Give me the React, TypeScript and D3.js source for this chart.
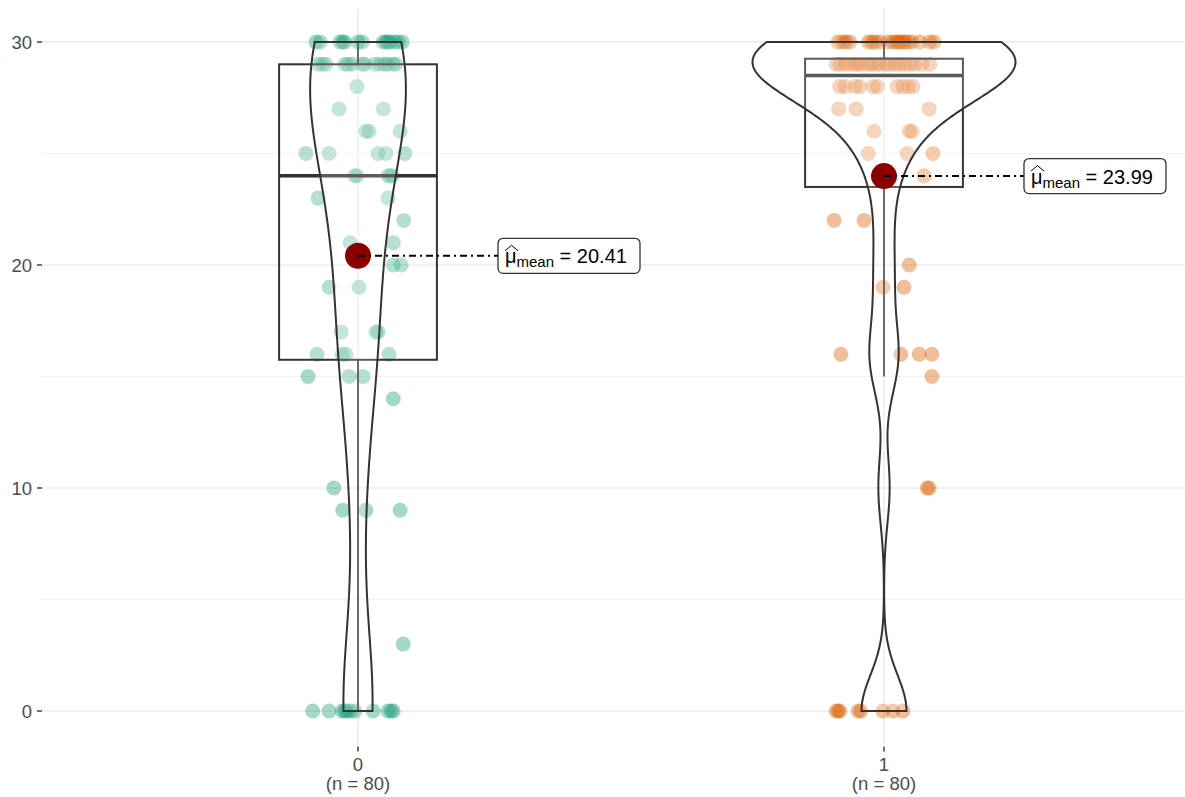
import React from "react";
import * as d3 from "d3";

// ---------- data ----------
const categories = ["0", "1"];

const group0Values = [
  30, 30, 30, 30, 30, 30, 30, 30, 30, 30, 30, 30, 30, 30,
  29, 29, 29, 29, 29, 29, 29, 29, 29, 29, 29, 29, 29, 29,
  28, 27, 27, 26, 26, 26, 25, 25, 25, 25, 25,
  24, 24, 24, 24, 24, 23, 23, 22, 21, 21, 20, 20, 19, 19,
  17, 17, 17, 16, 16, 16, 16, 15, 15, 15, 14, 10, 9, 9, 9, 3,
  0, 0, 0, 0, 0, 0, 0, 0, 0, 0, 0,
];
const group0Jitter = [
  -0.08, -0.072, -0.034, -0.029, -0.025, 0.0, 0.008, 0.048, 0.053, 0.057, 0.061, 0.07, 0.076, 0.084,
  -0.076, -0.068, -0.061, -0.025, -0.019, -0.011, 0.008, 0.013, 0.032, 0.042, 0.051, 0.057, 0.067, 0.072,
  -0.002, -0.036, 0.048, 0.015, 0.021, 0.08, -0.099, -0.055, 0.038, 0.053, 0.089,
  -0.002, 0.061, -0.006, 0.057, 0.065, -0.076, 0.057, 0.087, -0.015, 0.067, 0.067, 0.082, -0.055, 0.002,
  -0.032, 0.034, 0.038, -0.078, -0.03, -0.023, 0.059, -0.095, -0.017, 0.01, 0.067, -0.046, -0.029, 0.015, 0.08, 0.086,
  -0.086, -0.055, -0.03, -0.025, -0.021, -0.015, -0.006, 0.029, 0.057, 0.063, 0.067,
];

const group1Values = [
  30, 30, 30, 30, 30, 30, 30, 30, 30, 30, 30, 30, 30, 30, 30, 30, 30, 30, 30, 30,
  29, 29, 29, 29, 29, 29, 29, 29, 29, 29, 29, 29, 29, 29, 29, 29, 29, 29, 29, 29,
  28, 28, 28, 28, 28, 28, 28, 28, 28, 28,
  27, 27, 27, 26, 26, 26, 25, 25, 25, 24, 22, 22, 20, 19, 19,
  16, 16, 16, 16, 15, 10, 10,
  0, 0, 0, 0, 0, 0, 0, 0,
];
const group1Jitter = [
  -0.087, -0.078, -0.072, -0.065, -0.03, -0.023, -0.017, -0.008, 0.008, 0.017, 0.023, 0.027, 0.03, 0.036, 0.04, 0.046, 0.053, 0.068, 0.087, 0.095,
  -0.091, -0.084, -0.074, -0.065, -0.055, -0.049, -0.042, -0.03, -0.023, -0.015, -0.008, 0.004, 0.011, 0.021, 0.03, 0.04, 0.049, 0.059, 0.072, 0.087,
  -0.084, -0.074, -0.055, -0.046, -0.021, -0.013, 0.025, 0.036, 0.046, 0.055,
  -0.086, -0.053, 0.086, -0.019, 0.048, 0.053, -0.03, 0.044, 0.093, 0.076, -0.095, -0.038, 0.048, -0.002, 0.038,
  -0.082, 0.032, 0.067, 0.091, 0.091, 0.082, 0.086,
  -0.091, -0.087, -0.084, -0.049, -0.044, -0.002, 0.017, 0.036,
];

const yTicks = [0, 10, 20, 30];
const yMinorTicks = [5, 15, 25];
const groupColors = ["#1B9E77", "#D95F02"];

// ---------- layout ----------
const W = 1185;
const H = 797;
const panelLeft = 42;
const panelRight = 1185;

const yScale = d3.scaleLinear().domain([0, 30]).range([711, 42]);
const xScale = d3.scalePoint<string>().domain(categories).range([358, 884]);
const unit = (xScale("1") as number) - (xScale("0") as number); // px per category unit
const panelTop = yScale(31.5);
const panelBottom = yScale(-1.5);

const font = "'Liberation Sans', Arial, Helvetica, sans-serif";

function quantile7(sorted: number[], p: number) {
  return d3.quantileSorted(sorted, p) as number;
}

function kde(values: number[], n = 512) {
  const sorted = [...values].sort((a, b) => a - b);
  const sd = d3.deviation(sorted) as number;
  const iqr = quantile7(sorted, 0.75) - quantile7(sorted, 0.25);
  const lo = Math.min(sd, iqr / 1.34);
  const bw = 0.9 * lo * Math.pow(sorted.length, -0.2);
  const min = sorted[0];
  const max = sorted[sorted.length - 1];
  const pts: [number, number][] = [];
  for (let i = 0; i < n; i++) {
    const y = min + ((max - min) * i) / (n - 1);
    let s = 0;
    for (const v of sorted) {
      const z = (y - v) / bw;
      s += Math.exp(-0.5 * z * z);
    }
    pts.push([y, s / (sorted.length * bw * Math.sqrt(2 * Math.PI))]);
  }
  return pts;
}

function boxStats(values: number[]) {
  const s = [...values].sort((a, b) => a - b);
  const q1 = quantile7(s, 0.25);
  const med = quantile7(s, 0.5);
  const q3 = quantile7(s, 0.75);
  const iqr = q3 - q1;
  const lowFence = q1 - 1.5 * iqr;
  const highFence = q3 + 1.5 * iqr;
  const lo = s.find((v) => v >= lowFence) as number;
  const hi = [...s].reverse().find((v) => v <= highFence) as number;
  return { q1, med, q3, lo, hi, mean: d3.mean(s) as number, n: s.length };
}

const groups = [
  { key: categories[0], values: group0Values, jitter: group0Jitter, color: groupColors[0] },
  { key: categories[1], values: group1Values, jitter: group1Jitter, color: groupColors[1] },
];

export default function App() {
  const densities = groups.map((g) => kde(g.values));
  const maxD = d3.max(densities.flat(), (d) => d[1]) as number;
  const stats = groups.map((g) => boxStats(g.values));

  return (
    <svg
      width={W}
      height={H}
      style={{ position: "absolute", left: 0, top: 0, background: "#fff" }}
      fontFamily={font}
    >
      {/* grid */}
      {yMinorTicks.map((t) => (
        <line key={"mi" + t} x1={panelLeft} x2={panelRight} y1={yScale(t)} y2={yScale(t)} stroke="#F2F2F2" strokeWidth={1} />
      ))}
      {yTicks.map((t) => (
        <line key={"ma" + t} x1={panelLeft} x2={panelRight} y1={yScale(t)} y2={yScale(t)} stroke="#EBEBEB" strokeWidth={1.6} />
      ))}
      {categories.map((c) => (
        <line key={"vx" + c} x1={xScale(c)} x2={xScale(c)} y1={panelTop} y2={panelBottom} stroke="#EBEBEB" strokeWidth={1.6} />
      ))}

      {/* y axis */}
      {yTicks.map((t) => (
        <g key={"yt" + t}>
          <line x1={panelLeft - 5} x2={panelLeft} y1={yScale(t)} y2={yScale(t)} stroke="#333" strokeWidth={1.4} />
          <text x={panelLeft - 10} y={yScale(t)} dy="0.36em" textAnchor="end" fontSize={18.5} fill="#4D4D4D">
            {t}
          </text>
        </g>
      ))}

      {/* x axis */}
      {groups.map((g, i) => (
        <g key={"xt" + g.key}>
          <line x1={xScale(g.key)} x2={xScale(g.key)} y1={panelBottom + 2} y2={panelBottom + 7} stroke="#333" strokeWidth={1.4} />
          <text x={xScale(g.key)} y={771} textAnchor="middle" fontSize={18.5} fill="#4D4D4D">
            {g.key}
          </text>
          <text x={xScale(g.key)} y={790} textAnchor="middle" fontSize={18.5} fill="#4D4D4D">
            {`(n = ${stats[i].n})`}
          </text>
        </g>
      ))}

      {/* jittered points */}
      {groups.map((g) => (
        <g key={"pts" + g.key}>
          {g.values.map((v, j) => (
            <circle
              key={j}
              cx={(xScale(g.key) as number) + g.jitter[j] * unit}
              cy={yScale(v)}
              r={7.5}
              fill={g.color}
              fillOpacity={0.4}
            />
          ))}
        </g>
      ))}

      {/* boxplots */}
      {groups.map((g, i) => {
        const cx = xScale(g.key) as number;
        const s = stats[i];
        const hw = 0.15 * unit;
        return (
          <g key={"box" + g.key}>
            <line x1={cx} x2={cx} y1={yScale(s.q3)} y2={yScale(s.hi)} stroke="#444" strokeWidth={2} />
            <line x1={cx} x2={cx} y1={yScale(s.q1)} y2={yScale(s.lo)} stroke="#444" strokeWidth={2} />
            <rect
              x={cx - hw}
              y={yScale(s.q3)}
              width={2 * hw}
              height={yScale(s.q1) - yScale(s.q3)}
              fill="#fff"
              fillOpacity={0.2}
              stroke="#333"
              strokeWidth={2}
            />
            <line x1={cx - hw} x2={cx + hw} y1={yScale(s.med)} y2={yScale(s.med)} stroke="#333" strokeWidth={3.6} />
          </g>
        );
      })}

      {/* violins */}
      {groups.map((g, i) => {
        const cx = xScale(g.key) as number;
        const dens = densities[i];
        const half = (d: number) => (d / maxD) * 0.25 * unit;
        const right = dens.map(([y, d]) => [cx + half(d), yScale(y)] as [number, number]);
        const left = [...dens].reverse().map(([y, d]) => [cx - half(d), yScale(y)] as [number, number]);
        const path = d3.line()([...right, ...left]) + "Z";
        return (
          <path key={"vio" + g.key} d={path} fill="#fff" fillOpacity={0.2} stroke="#333" strokeWidth={2} />
        );
      })}

      {/* means and labels */}
      {groups.map((g, i) => {
        const cx = xScale(g.key) as number;
        const my = yScale(stats[i].mean);
        const L = cx + 140;
        const bw = 142;
        const bh = 35;
        const tx = L + 7;
        const base = my + 7.5;
        return (
          <g key={"mean" + g.key}>
            <circle cx={cx} cy={my} r={13} fill="#8B0000" />
            <line x1={cx} x2={L} y1={my} y2={my} stroke="#000" strokeWidth={2} strokeDasharray="7,4,2,4" />
            <rect x={L} y={my - bh / 2} width={bw} height={bh} rx={5} fill="#fff" stroke="#333" strokeWidth={1.3} />
            <path
              d={`M${tx},${base - 12.5} L${tx + 6.5},${base - 18} L${tx + 13},${base - 12.5}`}
              fill="none"
              stroke="#000"
              strokeWidth={1}
            />
            <text x={tx} y={base} fontSize={20} fill="#000">
              <tspan>μ</tspan>
              <tspan fontSize={15} dy={4}>mean</tspan>
              <tspan dy={-4}>{` = ${stats[i].mean.toFixed(2)}`}</tspan>
            </text>
          </g>
        );
      })}
    </svg>
  );
}
